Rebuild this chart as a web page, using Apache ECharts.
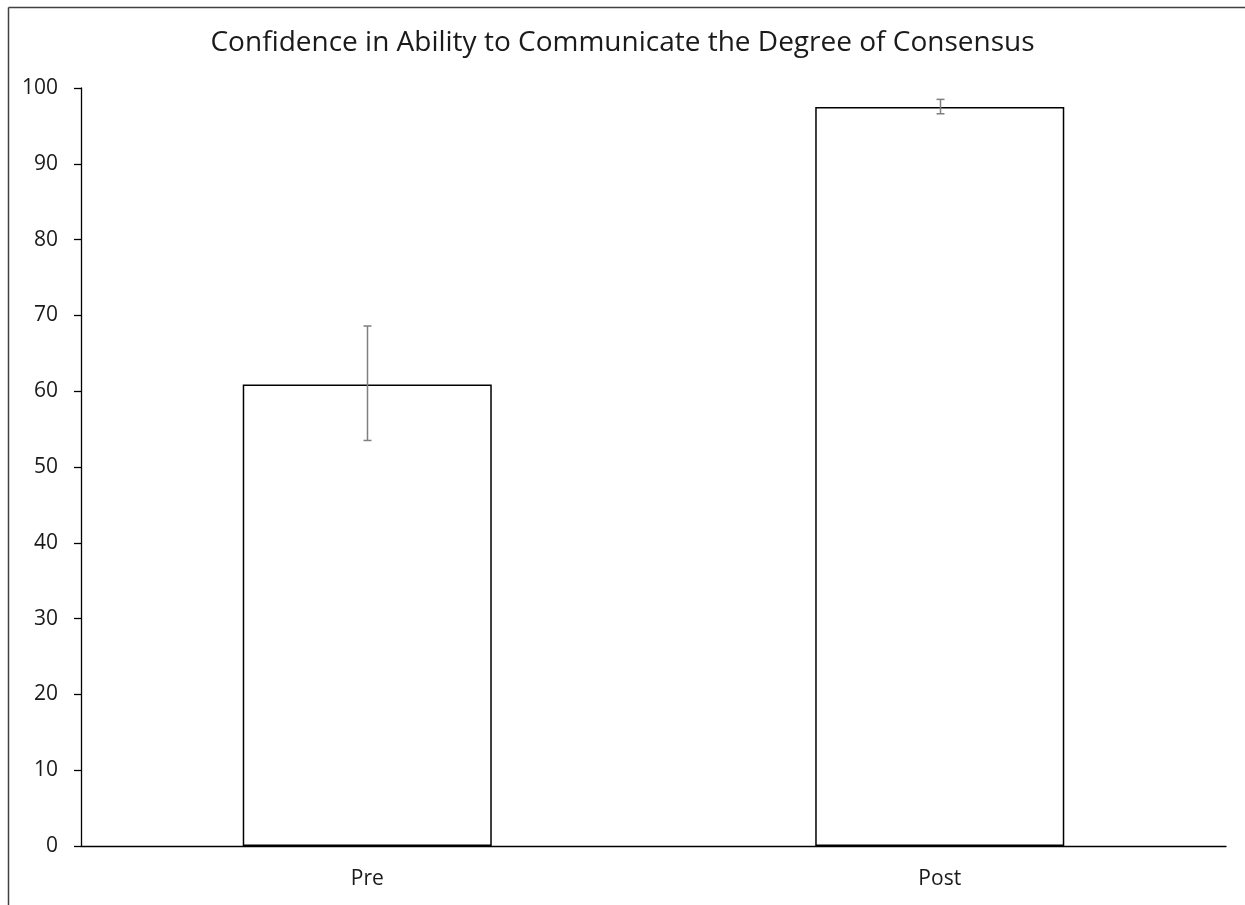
<!DOCTYPE html>
<html><head><meta charset="utf-8">
<script src="https://cdn.jsdelivr.net/npm/echarts@6/dist/echarts.min.js"></script>
<style>html,body{margin:0;padding:0;background:#fff}#c{width:1245px;height:905px}</style>
</head><body><div id="c"></div>
<script>
const categories = ['Pre', 'Post'];
const means = [60.9, 97.5];
const errLow = [53.5, 96.6];
const errHigh = [68.6, 98.5];
const yTicks = [0, 10, 20, 30, 40, 50, 60, 70, 80, 90, 100];

const FONT = 'Open Sans';
const chart = echarts.init(document.getElementById('c'), null, {renderer: 'canvas'});
chart.setOption({
  animation: false,
  backgroundColor: '#fff',
  title: {
    text: 'Confidence in Ability to Communicate the Degree of Consensus',
    left: 'center', top: 24,
    textStyle: {fontFamily: FONT, fontSize: 28, fontWeight: 'normal', color: '#1a1a1a'}
  },
  grid: {left: 81, right: 19, top: 88, bottom: 59},
  xAxis: {
    type: 'category', data: categories,
    axisLine: {lineStyle: {color: '#000', width: 1.3}},
    axisTick: {show: false},
    axisLabel: {fontFamily: FONT, fontSize: 21, color: '#1a1a1a', margin: 23}
  },
  yAxis: {
    type: 'value', min: yTicks[0], max: yTicks[yTicks.length - 1], interval: 10,
    axisLine: {show: true, lineStyle: {color: '#000', width: 1.3}},
    axisTick: {show: true, length: 7, lineStyle: {color: '#000', width: 1.3}},
    splitLine: {show: false},
    axisLabel: {fontFamily: FONT, fontSize: 21, color: '#1a1a1a', margin: 23}
  },
  series: [
    {
      type: 'bar', data: means, barWidth: '43.5%',
      itemStyle: {color: '#fff', borderColor: '#000', borderWidth: 1.5}
    },
    {
      type: 'custom',
      data: categories.map((c, i) => [i, errLow[i], errHigh[i]]),
      renderItem: function (params, api) {
        const lo = api.coord([api.value(0), api.value(1)]);
        const hi = api.coord([api.value(0), api.value(2)]);
        const x = Math.round(lo[0]) + 0.5, w = 4;
        const st = {stroke: '#7f7f7f', lineWidth: 1.5};
        return {type: 'group', children: [
          {type: 'line', shape: {x1: x, y1: hi[1], x2: x, y2: lo[1]}, style: st},
          {type: 'line', shape: {x1: x - w, y1: hi[1], x2: x + w, y2: hi[1]}, style: st},
          {type: 'line', shape: {x1: x - w, y1: lo[1], x2: x + w, y2: lo[1]}, style: st}
        ]};
      },
      z: 5
    }
  ],
  graphic: [
    {type: 'line', shape: {x1: 8.5, y1: 7.5, x2: 1245, y2: 7.5}, style: {stroke: '#404040', lineWidth: 1.5}},
    {type: 'line', shape: {x1: 8.5, y1: 7.5, x2: 8.5, y2: 905}, style: {stroke: '#404040', lineWidth: 1.5}}
  ]
});
</script></body></html>
